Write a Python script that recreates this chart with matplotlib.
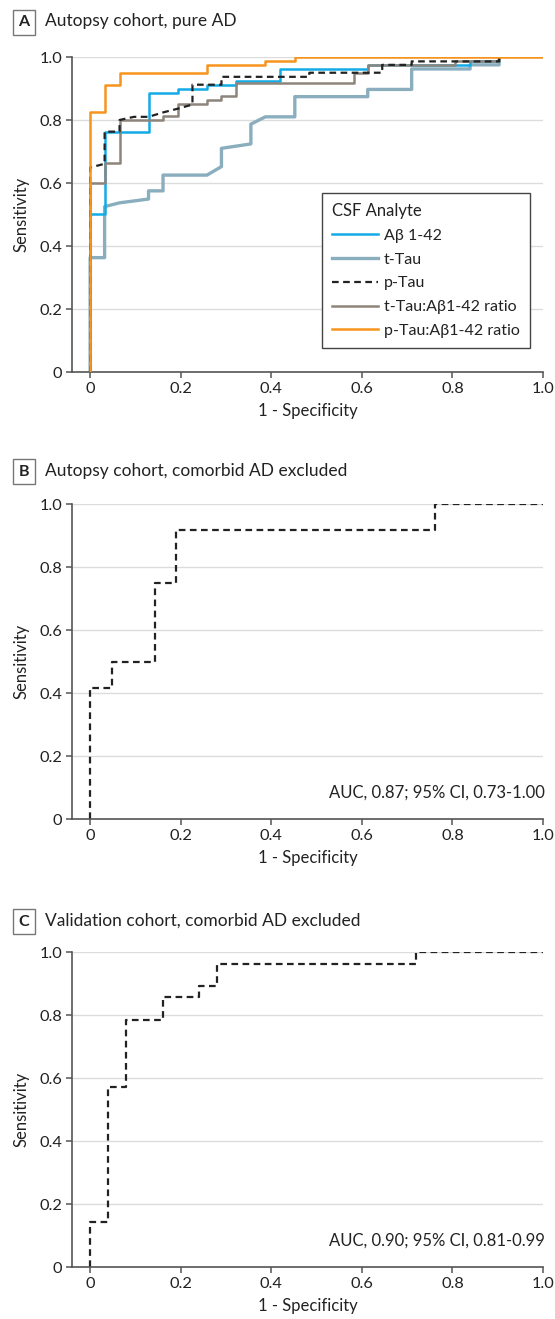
import matplotlib
matplotlib.use("Agg")
import matplotlib.pyplot as plt

plt.rcParams['font.family'] = ['Lato', 'DejaVu Sans']

# ---------------- data ----------------
# Panel A: autopsy cohort, pure AD (FPR = 1-specificity, TPR = sensitivity)
abeta_fpr = [0, 0, 0.032, 0.032, 0.129, 0.129, 0.194, 0.194, 0.258, 0.258, 0.323, 0.323,
             0.419, 0.419, 0.613, 0.613, 0.839, 0.839, 0.903, 0.903]
abeta_tpr = [0, 0.502, 0.502, 0.764, 0.764, 0.888, 0.888, 0.900, 0.900, 0.913, 0.913, 0.926,
             0.926, 0.962, 0.962, 0.976, 0.976, 0.987, 0.987, 1.0]

ttau_fpr = [0, 0, 0.032, 0.032, 0.065, 0.129, 0.129, 0.161, 0.161, 0.258, 0.290, 0.290,
            0.355, 0.355, 0.387, 0.452, 0.452, 0.613, 0.613, 0.710, 0.710, 0.839, 0.839,
            0.903, 0.903]
ttau_tpr = [0, 0.364, 0.364, 0.526, 0.538, 0.550, 0.576, 0.576, 0.626, 0.626, 0.653, 0.711,
            0.725, 0.788, 0.811, 0.811, 0.875, 0.875, 0.898, 0.898, 0.963, 0.963, 0.976,
            0.976, 1.0]

ptau_fpr = [0, 0, 0.032, 0.032, 0.065, 0.065, 0.097, 0.129, 0.161, 0.194, 0.226, 0.226,
            0.290, 0.290, 0.484, 0.484, 0.645, 0.645, 0.710, 0.710, 0.903, 0.903]
ptau_tpr = [0, 0.650, 0.662, 0.764, 0.764, 0.801, 0.811, 0.811, 0.825, 0.837, 0.850, 0.913,
            0.913, 0.938, 0.938, 0.951, 0.951, 0.976, 0.976, 0.987, 0.987, 1.0]

ttau_ratio_fpr = [0, 0, 0.032, 0.032, 0.065, 0.065, 0.161, 0.161, 0.194, 0.194, 0.258, 0.258,
                  0.290, 0.290, 0.323, 0.323, 0.583, 0.583, 0.613, 0.613, 0.806, 0.806,
                  0.903, 0.903]
ttau_ratio_tpr = [0, 0.600, 0.600, 0.665, 0.665, 0.801, 0.801, 0.814, 0.814, 0.851, 0.851,
                  0.864, 0.864, 0.877, 0.877, 0.917, 0.917, 0.951, 0.951, 0.976, 0.976,
                  0.988, 0.988, 1.0]

ptau_ratio_fpr = [0, 0, 0.032, 0.032, 0.065, 0.065, 0.258, 0.258, 0.387, 0.387, 0.452, 0.452, 1.0]
ptau_ratio_tpr = [0, 0.825, 0.825, 0.913, 0.913, 0.950, 0.950, 0.976, 0.976, 0.988, 0.988, 1.0, 1.0]

# Panel B: autopsy cohort, comorbid AD excluded (p-Tau)
b_fpr = [0, 0, 0.048, 0.048, 0.143, 0.143, 0.190, 0.190, 0.762, 0.762, 1.0]
b_tpr = [0, 0.417, 0.417, 0.500, 0.500, 0.750, 0.750, 0.917, 0.917, 1.0, 1.0]

# Panel C: validation cohort, comorbid AD excluded (p-Tau)
c_fpr = [0, 0, 0.04, 0.04, 0.08, 0.08, 0.16, 0.16, 0.24, 0.24, 0.28, 0.28, 0.72, 0.72, 1.0]
c_tpr = [0, 0.143, 0.143, 0.571, 0.571, 0.786, 0.786, 0.857, 0.857, 0.893, 0.893, 0.964,
         0.964, 1.0, 1.0]

ticks = [0, 0.2, 0.4, 0.6, 0.8, 1.0]
tick_labels = ["0", "0.2", "0.4", "0.6", "0.8", "1.0"]

panel_letters = ["A", "B", "C"]
panel_titles = ["Autopsy cohort, pure AD",
                "Autopsy cohort, comorbid AD excluded",
                "Validation cohort, comorbid AD excluded"]
auc_texts = [None, "AUC, 0.87; 95% CI, 0.73-1.00", "AUC, 0.90; 95% CI, 0.81-0.99"]

C_BLUE = '#12ABE6'
C_STEEL = '#8AAEBE'
C_GRAY = '#8D857B'
C_ORANGE = '#F7941D'
SPINE = '#555555'
TXT = '#222222'

W, H = 555, 1319
fig = plt.figure(figsize=(W / 100, H / 100), dpi=100)

ax_left = 72 / W
ax_w = 471 / W
ax_h = 315 / H
bottoms_px = [372.3, 819.3, 1267.3]
label_centers_py = [22.3, 471.7, 921.7]

axes = []
for i, bp in enumerate(bottoms_px):
    ax = fig.add_axes([ax_left, 1 - bp / H, ax_w, ax_h])
    axes.append(ax)
    ax.set_xlim(-0.04, 1.0)
    ax.set_ylim(0, 1.0)
    ax.set_xticks(ticks)
    ax.set_xticklabels(tick_labels)
    ax.set_yticks(ticks)
    ax.set_yticklabels(tick_labels)
    for s in ['top', 'right']:
        ax.spines[s].set_visible(False)
    for s in ['left', 'bottom']:
        ax.spines[s].set_color(SPINE)
        ax.spines[s].set_linewidth(1.2)
    ax.tick_params(axis='both', direction='out', length=4, width=1.1, color=SPINE,
                   labelsize=11.8, labelcolor=TXT, pad=3)
    ax.yaxis.grid(True, color='#DCDCDC', linewidth=1.0)
    ax.set_axisbelow(True)
    ax.set_xlabel("1 - Specificity", fontsize=12, color=TXT, labelpad=5)
    ax.set_ylabel("Sensitivity", fontsize=12, color=TXT, labelpad=7)
    cy = label_centers_py[i]
    fig.text(24 / W, 1 - cy / H, panel_letters[i], fontsize=11.5, fontweight='bold',
             ha='center', va='center', color=TXT,
             bbox=dict(boxstyle='square,pad=0.35', facecolor='white', edgecolor='#777777',
                       linewidth=1.0))
    fig.text(45 / W, 1 - (cy - 1) / H, panel_titles[i], fontsize=12.5, ha='left',
             va='center', color=TXT)
    if auc_texts[i]:
        ax.text(1.005, 0.085, auc_texts[i], fontsize=12, ha='right', va='center',
                color=TXT, transform=ax.transData)

axA, axB, axC = axes
axA.plot(ttau_fpr, ttau_tpr, color=C_STEEL, lw=2.4, label='t-Tau', zorder=2)
axA.plot(abeta_fpr, abeta_tpr, color=C_BLUE, lw=1.8, label='A\u03b2 1-42', zorder=3)
axA.plot(ttau_ratio_fpr, ttau_ratio_tpr, color=C_GRAY, lw=1.8,
         label='t-Tau:A\u03b21-42 ratio', zorder=4)
axA.plot(ptau_fpr, ptau_tpr, color=TXT, lw=1.6, ls=(0, (3, 2)), label='p-Tau', zorder=5)
axA.plot(ptau_ratio_fpr, ptau_ratio_tpr, color=C_ORANGE, lw=1.8,
         label='p-Tau:A\u03b21-42 ratio', zorder=6)

handles, labels = axA.get_legend_handles_labels()
order = ['A\u03b2 1-42', 't-Tau', 'p-Tau', 't-Tau:A\u03b21-42 ratio', 'p-Tau:A\u03b21-42 ratio']
hmap = dict(zip(labels, handles))
leg = axA.legend([hmap[k] for k in order], order, title='CSF Analyte', loc='lower left',
                 bbox_to_anchor=(0.53, 0.076), fontsize=11.5, title_fontsize=12,
                 frameon=True, fancybox=False, edgecolor='#444444', framealpha=1,
                 handlelength=2.9, handletextpad=0.35, labelspacing=0.6,
                 borderpad=0.65, borderaxespad=0)
leg._legend_box.align = 'left'
leg.get_frame().set_linewidth(1.0)
for t in leg.get_texts():
    t.set_color(TXT)
leg.get_title().set_color(TXT)

axB.plot(b_fpr, b_tpr, color=TXT, lw=1.6, ls=(0, (3, 2)))
axC.plot(c_fpr, c_tpr, color=TXT, lw=1.6, ls=(0, (3, 2)))

fig.savefig('out.png', dpi=100, facecolor='white')
